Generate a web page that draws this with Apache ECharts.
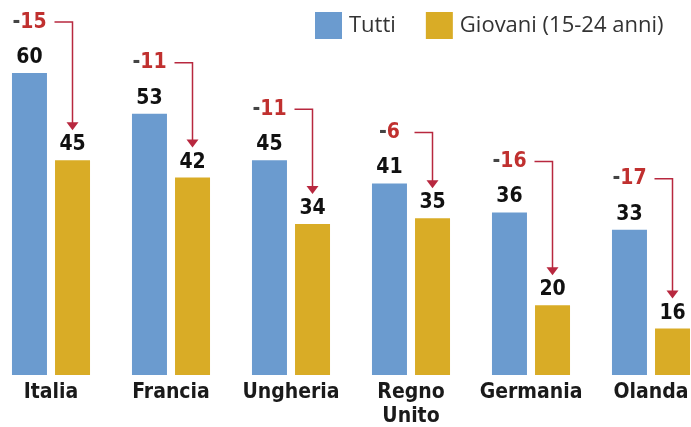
<!DOCTYPE html>
<html><head><meta charset="utf-8">
<script src="https://cdn.jsdelivr.net/npm/echarts@6/dist/echarts.min.js"></script>
<style>html,body{margin:0;padding:0;background:#fff}#c{width:691px;height:427px}</style>
</head><body><div id="c"></div>
<script>
const categories = ['Italia', 'Francia', 'Ungheria', 'Regno\nUnito', 'Germania', 'Olanda'];
const tutti = [60, 53, 45, 41, 36, 33];
const giovani = [45, 42, 34, 35, 20, 16];
const seriesNames = ['Tutti', 'Giovani (15-24 anni)'];

const BLUE = '#6b9bcf', YELLOW = '#d9ac26', RED = '#b8283f';
const FONT = "'Liberation Sans Narrow','DejaVu Sans Condensed','Liberation Sans',sans-serif";
const chart = echarts.init(document.getElementById('c'));
const half = 21.5;

chart.setOption({
  animation: false,
  legend: {
    left: 310, top: 7, itemWidth: 27, itemHeight: 27, itemGap: 30, icon: 'rect',
    textStyle: { fontSize: 22, color: '#333', fontFamily: "'Open Sans',sans-serif", padding: [0,0,0,2] },
    data: seriesNames
  },
  grid: { left: -9, width: 720, top: 15, bottom: 52, outerBoundsMode: 'none', containLabel: false },
  xAxis: {
    type: 'category', data: categories,
    axisLine: { show: false }, axisTick: { show: false },
    axisLabel: { margin: 6, fontSize: 21, fontWeight: 'bold', color: '#1a1a1a', fontFamily: FONT, lineHeight: 24, interval: 0 }
  },
  yAxis: { type: 'value', min: 8, max: 70, show: false, splitLine: { show: false } },
  series: [
    { name: seriesNames[0], type: 'bar', data: tutti, barWidth: 35, barGap: '23%', clip: true,
      itemStyle: { color: BLUE },
      label: { show: true, position: 'top', distance: 5, fontSize: 21, fontWeight: 'bold', color: '#111', fontFamily: FONT } },
    { name: seriesNames[1], type: 'bar', data: giovani, barWidth: 35, clip: true,
      itemStyle: { color: YELLOW },
      label: { show: true, position: 'top', distance: 5, fontSize: 21, fontWeight: 'bold', color: '#111', fontFamily: FONT } },
    { type: 'custom', silent: true, z: 5,
      data: categories.map((c, i) => [i, tutti[i], giovani[i]]),
      renderItem: function (params, api) {
        const i = api.value(0), a = api.value(1), b = api.value(2);
        const p1 = api.coord([i, a]), p2 = api.coord([i, b]);
        const bx = p1[0] - half, yx = p1[0] + half;
        const ly = p1[1] - 51;
        const tip = p2[1] - 30;
        const diff = b - a;
        const digits = String(Math.abs(diff));
        return { type: 'group', children: [
          { type: 'text', style: { x: bx, y: ly, text: '{m|-}{r|' + digits + '}', align: 'center', verticalAlign: 'middle',
            rich: { m: { fontSize: 21, fontWeight: 'bold', fill: '#444', fontFamily: FONT },
                    r: { fontSize: 21, fontWeight: 'bold', fill: '#c0302f', fontFamily: FONT } } } },
          { type: 'polyline', shape: { points: [[bx + 25, ly], [yx, ly], [yx, tip - 6]] },
            style: { stroke: RED, lineWidth: 1.5, fill: null } },
          { type: 'polygon', shape: { points: [[yx - 6, tip - 8], [yx + 6, tip - 8], [yx, tip]] },
            style: { fill: RED } }
        ]};
      }
    }
  ]
});
</script></body></html>
